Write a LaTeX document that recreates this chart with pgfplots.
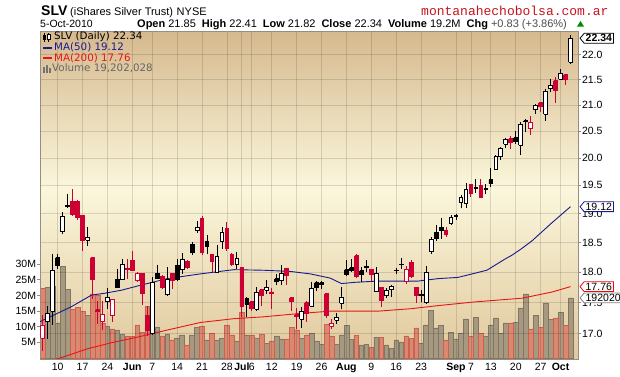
\documentclass[border=0pt]{standalone}
\usepackage{fontspec}
\usepackage{pgfplots}
\usepackage{pgfplotstable}
\pgfplotsset{compat=1.18}
\usetikzlibrary{shapes.symbols}
\setmainfont{Liberation Sans}
\newfontfamily\dejavu{DejaVu Sans}
\newfontfamily\wmfont{Liberation Mono}

\definecolor{cred}{RGB}{204,0,51}
\definecolor{ma50}{RGB}{25,25,145}
\definecolor{ma200}{RGB}{235,20,20}
\definecolor{vgray}{RGB}{166,153,128}
\definecolor{vgrayd}{RGB}{128,118,102}
\definecolor{vred}{RGB}{218,136,112}
\definecolor{vredd}{RGB}{202,98,82}
\definecolor{bgtop}{RGB}{214,185,142}
\definecolor{bgmid}{RGB}{251,247,220}
\definecolor{bgbot}{RGB}{224,200,156}
\definecolor{framec}{RGB}{150,140,130}
\definecolor{wmred}{RGB}{200,20,30}

\pgfdeclareverticalshading{bgshade}{100bp}{color(0bp)=(bgbot); color(25bp)=(bgbot); color(51bp)=(bgmid); color(75bp)=(bgtop); color(100bp)=(bgtop)}

\pgfplotsset{
  wick1/.style={black, line width=0.9pt},
  wick2/.style={black, line width=0.9pt},
  wick3/.style={cred, line width=0.9pt},
  wick4/.style={cred, line width=0.9pt},
  body1/.style={draw=black, fill=white, line width=0.9pt},
  body2/.style={draw=black, fill=black, line width=0.9pt},
  body3/.style={draw=cred, fill=cred, line width=0.9pt},
  body4/.style={draw=cred, fill=white, line width=0.9pt},
}

% x = trading day (0 = 5 May 2010), o h l c, t = candle type, v = volume (M), d = down day
\pgfplotstableread{
x o h l c t v d
0 16.93 17.30 16.74 17.14 4 22.3 1
1 17.19 17.45 16.92 17.33 1 22.6 0
2 17.36 18.31 17.14 18.02 1 23.0 0
3 18.24 18.31 18.05 18.11 2 11.2 0
4 18.68 19.03 18.64 18.95 1 29.3 0
5 19.15 19.34 19.10 19.12 2 21.9 0
6 19.22 19.43 18.96 18.98 3 15.5 1
7 19.22 19.24 18.88 18.93 3 16.2 1
8 18.97 18.97 18.36 18.54 3 14.9 1
9 18.54 18.76 18.43 18.58 1 13.5 0
10 18.24 18.26 17.56 17.88 3 20.5 1
11 17.38 17.53 17.16 17.36 3 20.0 1
12 17.19 17.53 17.06 17.31 4 11.1 1
13 17.51 17.74 17.40 17.58 1 10.0 0
14 17.29 17.55 17.19 17.55 4 9.3 1
15 17.87 18.05 17.74 17.75 2 9.0 0
16 17.88 18.22 17.88 18.13 1 7.7 0
17 18.06 18.22 17.88 18.05 3 7.1 1
18 18.19 18.36 18.02 18.02 3 7.0 1
19 17.86 18.00 17.84 17.98 4 10.6 1
20 17.97 17.99 17.46 17.64 3 8.2 1
21 17.29 17.45 16.96 17.06 3 16.5 1
22 17.00 17.92 16.98 17.83 1 14.2 0
23 17.98 18.11 17.89 17.89 2 9.8 0
24 17.92 17.95 17.72 17.75 3 7.1 1
25 17.63 18.08 17.61 17.88 1 7.7 0
26 17.98 17.98 17.72 17.86 3 5.8 1
27 18.11 18.22 17.86 17.87 2 6.3 0
28 18.04 18.32 17.97 18.21 1 7.2 0
29 18.18 18.20 18.05 18.07 3 4.2 1
30 18.46 18.51 18.29 18.33 2 7.2 0
31 18.70 18.87 18.66 18.76 1 9.8 0
32 18.91 18.96 18.29 18.33 3 10.1 1
33 18.52 18.62 18.30 18.43 2 5.8 0
34 18.30 18.30 18.00 18.18 3 8.0 1
35 18.00 18.46 17.99 18.26 1 5.8 0
36 18.52 18.76 18.39 18.67 1 6.3 0
37 18.74 18.85 18.36 18.39 3 10.6 1
38 18.29 18.32 18.10 18.12 3 7.4 1
39 18.12 18.33 18.05 18.22 1 5.5 0
40 18.07 18.08 17.26 17.43 3 14.6 1
41 17.56 17.59 17.26 17.47 2 7.4 0
42 17.51 17.53 17.36 17.40 3 7.2 1
43 17.39 17.76 17.37 17.66 1 6.3 0
44 17.71 17.72 17.45 17.61 3 7.6 1
45 17.70 17.87 17.64 17.74 1 4.7 0
46 17.67 17.73 17.40 17.65 3 5.5 1
47 17.89 17.97 17.78 17.84 2 7.1 0
48 17.86 18.11 17.78 17.97 1 6.1 0
49 18.06 18.07 17.79 17.95 3 6.1 1
50 17.58 17.59 17.36 17.51 3 9.9 1
51 17.30 17.41 17.08 17.27 3 9.0 1
52 17.23 17.43 17.09 17.35 1 6.3 0
53 17.50 17.53 17.19 17.32 3 7.4 1
54 17.44 17.84 17.43 17.73 1 8.0 0
55 17.82 17.85 17.68 17.74 2 5.5 0
56 17.82 17.86 17.72 17.79 2 4.4 0
57 17.64 17.65 17.25 17.29 3 10.7 1
58 17.12 17.24 17.08 17.17 4 7.1 1
59 17.22 17.33 17.16 17.26 1 4.4 0
60 17.49 17.76 17.39 17.59 1 7.4 0
61 18.04 18.20 17.94 17.96 2 10.3 0
62 18.07 18.22 18.00 18.02 2 6.0 0
63 18.27 18.31 17.90 17.92 3 7.3 1
64 18.02 18.08 17.83 17.96 2 4.2 0
65 18.10 18.20 18.00 18.08 2 4.4 0
66 18.04 18.05 17.86 17.96 3 3.4 1
67 17.68 18.08 17.67 17.98 1 6.7 0
68 17.74 17.75 17.43 17.53 3 6.7 1
69 17.61 17.73 17.58 17.70 1 4.2 0
70 17.71 17.78 17.59 17.76 1 3.1 0
71 18.03 18.07 17.97 18.02 2 5.8 0
72 18.13 18.23 18.05 18.12 2 5.1 0
73 17.84 18.10 17.80 18.04 4 7.1 1
74 18.16 18.20 17.90 17.92 3 6.3 1
75 17.74 17.75 17.49 17.61 3 9.6 1
76 17.63 17.70 17.51 17.62 2 4.7 0
77 17.50 18.10 17.48 17.99 1 10.6 0
78 18.34 18.59 18.30 18.55 1 15.2 0
79 18.67 18.79 18.53 18.57 2 9.6 0
80 18.75 18.93 18.56 18.71 2 10.3 0
81 18.70 18.76 18.59 18.63 3 5.8 1
82 18.82 18.98 18.79 18.93 1 8.3 0
83 18.95 19.00 18.89 18.97 1 6.1 0
84 19.19 19.32 19.09 19.28 1 8.0 0
85 19.17 19.54 19.10 19.43 1 12.5 0
86 19.52 19.53 19.30 19.35 3 6.9 1
87 19.45 19.62 19.37 19.46 1 13.1 0
88 19.50 19.62 19.28 19.29 3 8.0 1
89 19.44 19.52 19.35 19.43 2 7.1 0
90 19.60 19.81 19.47 19.53 2 10.6 0
91 19.79 20.05 19.78 20.03 1 12.8 0
92 20.02 20.21 19.97 20.17 1 8.0 0
93 20.25 20.38 20.18 20.34 1 11.2 0
94 20.36 20.41 20.16 20.28 3 11.2 1
95 20.38 20.51 20.26 20.30 2 11.5 0
96 20.24 20.67 20.05 20.62 1 16.0 0
97 20.70 20.73 20.49 20.69 2 20.5 0
98 20.55 20.79 20.43 20.66 4 9.3 1
99 20.91 21.03 20.82 21.00 1 13.5 0
100 21.05 21.07 20.87 20.97 3 9.9 1
101 20.82 21.31 20.70 21.27 1 17.6 0
102 21.32 21.51 21.25 21.39 1 12.3 0
103 21.48 21.55 21.05 21.29 3 12.8 1
104 21.51 21.71 21.50 21.63 1 14.7 0
105 21.60 21.62 21.40 21.51 3 10.3 1
106 21.85 22.41 21.82 22.34 1 19.2 0
}\data

\begin{document}
\begin{tikzpicture}[x=1pt,y=1pt]
\useasboundingbox (0,0) rectangle (620,376);
\fill[white] (0,0) rectangle (620,376);
\shade[shading=bgshade] (40,17) rectangle (578,345);

% ---------- volume axis ----------
\begin{axis}[at={(40pt,17pt)}, anchor=south west, scale only axis,
  width=538pt, height=328pt,
  xmin=-0.54, xmax=107.5, ymin=-0.3, ymax=104.4,
  ybar, bar width=0.95, bar shift=0pt,
  axis x line=none, axis y line*=left,
  y axis line style={draw=none},
  ytick={5,10,15,20,25,30},
  yticklabels={5M,10M,15M,20M,25M,30M},
  tick align=outside, major tick length=3pt,
  ytick style={draw=framec, line width=0.8pt},
  yticklabel style={font=\fontsize{10.5}{12}\selectfont, inner sep=0.8pt},
  clip=true]
\addplot[fill=vgray, draw=vgrayd, line width=0.6pt,
  restrict expr to domain={\thisrow{d}}{-0.5:0.5}] table[x=x, y=v] {\data};
\addplot[fill=vred, draw=vredd, line width=0.6pt,
  restrict expr to domain={\thisrow{d}}{0.5:1.5}] table[x=x, y=v] {\data};
\coordinate (vlab) at (axis cs:107.5,19.2);
\end{axis}

% ---------- price axis ----------
\begin{axis}[at={(40pt,17pt)}, anchor=south west, scale only axis,
  width=538pt, height=328pt,
  ymode=log,
  xmin=-0.54, xmax=107.5, ymin=16.61, ymax=22.49,
  axis line style={draw=framec, line width=0.9pt},
  xtick={3,8,13,18,22,27,32,37,40,42,46,51,56,61,66,71,76,83,86,90,95,100,104},
  xticklabels={10,17,24,\textbf{Jun},7,14,21,28,\textbf{Jul},6,12,19,26,\textbf{Aug},9,16,23,\textbf{Sep},7,13,20,27,\textbf{Oct}},
  ytick={17,17.5,18,18.5,19,19.5,20,20.5,21,21.5,22},
  yticklabels={17.0,17.5,18.0,18.5,19.0,19.5,20.0,20.5,21.0,21.5,22.0},
  ytick pos=right, yticklabel pos=right,
  xmajorgrids, ymajorgrids,
  grid style={black, opacity=0.13, line width=0.8pt},
  tick align=outside, major tick length=3pt,
  xtick style={draw=none},
  ytick style={draw=framec, line width=0.8pt},
  xticklabel style={font=\fontsize{10.5}{12}\selectfont, inner sep=1pt},
  yticklabel style={font=\fontsize{10.5}{12}\selectfont, inner sep=0.8pt},
  no markers, clip=true]
\addplot[ma50, line width=0.9pt] coordinates {
(-0.6,17.19) (5.7,17.43) (9.8,17.62) (12.4,17.65) (15.8,17.70) (19.1,17.77)
(25,17.89) (31.7,17.97) (38.4,18.04) (44.3,18.03) (49.7,18.01) (53.7,17.97)
(57.7,17.90) (60,17.81) (62.7,17.83) (67.3,17.85) (75.4,17.85) (79.4,17.89)
(83.4,17.91) (89.2,18.03) (92.9,18.22) (94.2,18.28) (96.3,18.40) (98.3,18.53)
(102.3,18.84) (106,19.12)};
\addplot[ma200, line width=0.9pt] coordinates {
(-0.6,16.53) (4.1,16.64) (9.1,16.77) (13.8,16.86) (19.1,16.95) (25,17.06)
(31.7,17.18) (38.4,17.24) (44.3,17.27) (51,17.32) (57.7,17.36) (67.3,17.36)
(74,17.40) (79.4,17.45) (86.9,17.51) (96.3,17.57) (102.3,17.67) (106,17.76)};
\pgfplotsforeachungrouped \i in {0,...,106}{%
  \pgfplotstablegetelem{\i}{x}\of\data \let\X\pgfplotsretval
  \pgfplotstablegetelem{\i}{o}\of\data \let\O\pgfplotsretval
  \pgfplotstablegetelem{\i}{h}\of\data \let\H\pgfplotsretval
  \pgfplotstablegetelem{\i}{l}\of\data \let\L\pgfplotsretval
  \pgfplotstablegetelem{\i}{c}\of\data \let\C\pgfplotsretval
  \pgfplotstablegetelem{\i}{t}\of\data \let\T\pgfplotsretval
  \pgfmathsetmacro\XA{\X-0.38}%
  \pgfmathsetmacro\XB{\X+0.38}%
  \edef\next{%
    \noexpand\addplot[wick\T] coordinates {(\X,\L) (\X,\H)};%
    \noexpand\addplot[body\T] coordinates {(\XA,\O) (\XB,\O) (\XB,\C) (\XA,\C) (\XA,\O)};%
  }\next
}
\coordinate (plab) at (axis cs:107.5,22.34);
\coordinate (m50lab) at (axis cs:107.5,19.12);
\coordinate (m200lab) at (axis cs:107.5,17.76);
\end{axis}

% ---------- right-side value tags ----------
\tikzset{tag/.style={shape=signal, signal to=west, signal pointer angle=100,
  fill=white, line width=0.8pt, inner xsep=1.5pt, inner ysep=1.2pt, anchor=west,
  font=\fontsize{10.5}{11}\selectfont}}
\node[tag, draw=black, font=\bfseries\fontsize{10.5}{11}\selectfont] at ([xshift=1.5pt]plab) {22.34};
\node[tag, draw=ma50] at ([xshift=1.5pt]m50lab) {19.12};
\node[tag, draw=red] at ([xshift=1.5pt]m200lab) {17.76};
\node[tag, draw=gray] at ([xshift=1.5pt]vlab) {19202028};

% ---------- header ----------
\node[anchor=base west, inner sep=0, font=\bfseries\fontsize{14}{14}\selectfont] at (41,360) {SLV};
\node[anchor=base west, inner sep=0, font=\fontsize{11}{11}\selectfont] at (70,360) {(iShares Silver Trust)\,\,NYSE};
\node[anchor=base west, inner sep=0, font=\wmfont\fontsize{13}{14}\selectfont, text=wmred] at (421,360) {montanahechobolsa.com.ar};
\node[anchor=base west, inner sep=0, font=\fontsize{10.5}{11}\selectfont] at (40,348.5) {5-Oct-2010};
\node[anchor=base west, inner sep=0, font=\fontsize{11}{11}\selectfont] at (137,348.5)
  {\textbf{Open} 21.85\hspace{6pt}\textbf{High} 22.41\hspace{6pt}\textbf{Low} 21.82\hspace{6pt}\textbf{Close} 22.34\hspace{6pt}\textbf{Volume} 19.2M\hspace{6pt}\textbf{Chg} \textcolor{black!70}{+0.83 (+3.86\%)}};
\fill[green!55!black] (577,349.5) -- (584,349.5) -- (580.5,355) -- cycle;

% ---------- legend ----------
\draw[black, line width=0.7pt] (44.5,334.5) -- (44.5,343.5);
\fill[black] (43.3,336.5) rectangle (45.7,341.5);
\draw[black, line width=0.7pt] (48.8,334.5) -- (48.8,343.5);
\draw[black, fill=white, line width=0.6pt] (47.6,337) rectangle (50,341.5);
\node[anchor=west, inner sep=0, font=\dejavu\fontsize{10.3}{11}\selectfont] at (54,339) {SLV (Daily) 22.34};
\draw[ma50, line width=2pt] (43,328.5) -- (51.5,328.5);
\node[anchor=west, inner sep=0, font=\dejavu\fontsize{10.3}{11}\selectfont, text=ma50] at (54,328.5) {MA(50) 19.12};
\draw[ma200, line width=2pt] (43,318) -- (51.5,318);
\node[anchor=west, inner sep=0, font=\dejavu\fontsize{10.3}{11}\selectfont, text=ma200] at (54,318) {MA(200) 17.76};
\fill[black!55] (43,303.5) rectangle (45,309);
\fill[black!55] (45.8,303.5) rectangle (47.8,311.5);
\fill[black!55] (48.6,303.5) rectangle (50.6,308);
\node[anchor=west, inner sep=0, font=\dejavu\fontsize{10.3}{11}\selectfont, text=black!60] at (52,307.5) {Volume 19,202,028};
\end{tikzpicture}
\end{document}
